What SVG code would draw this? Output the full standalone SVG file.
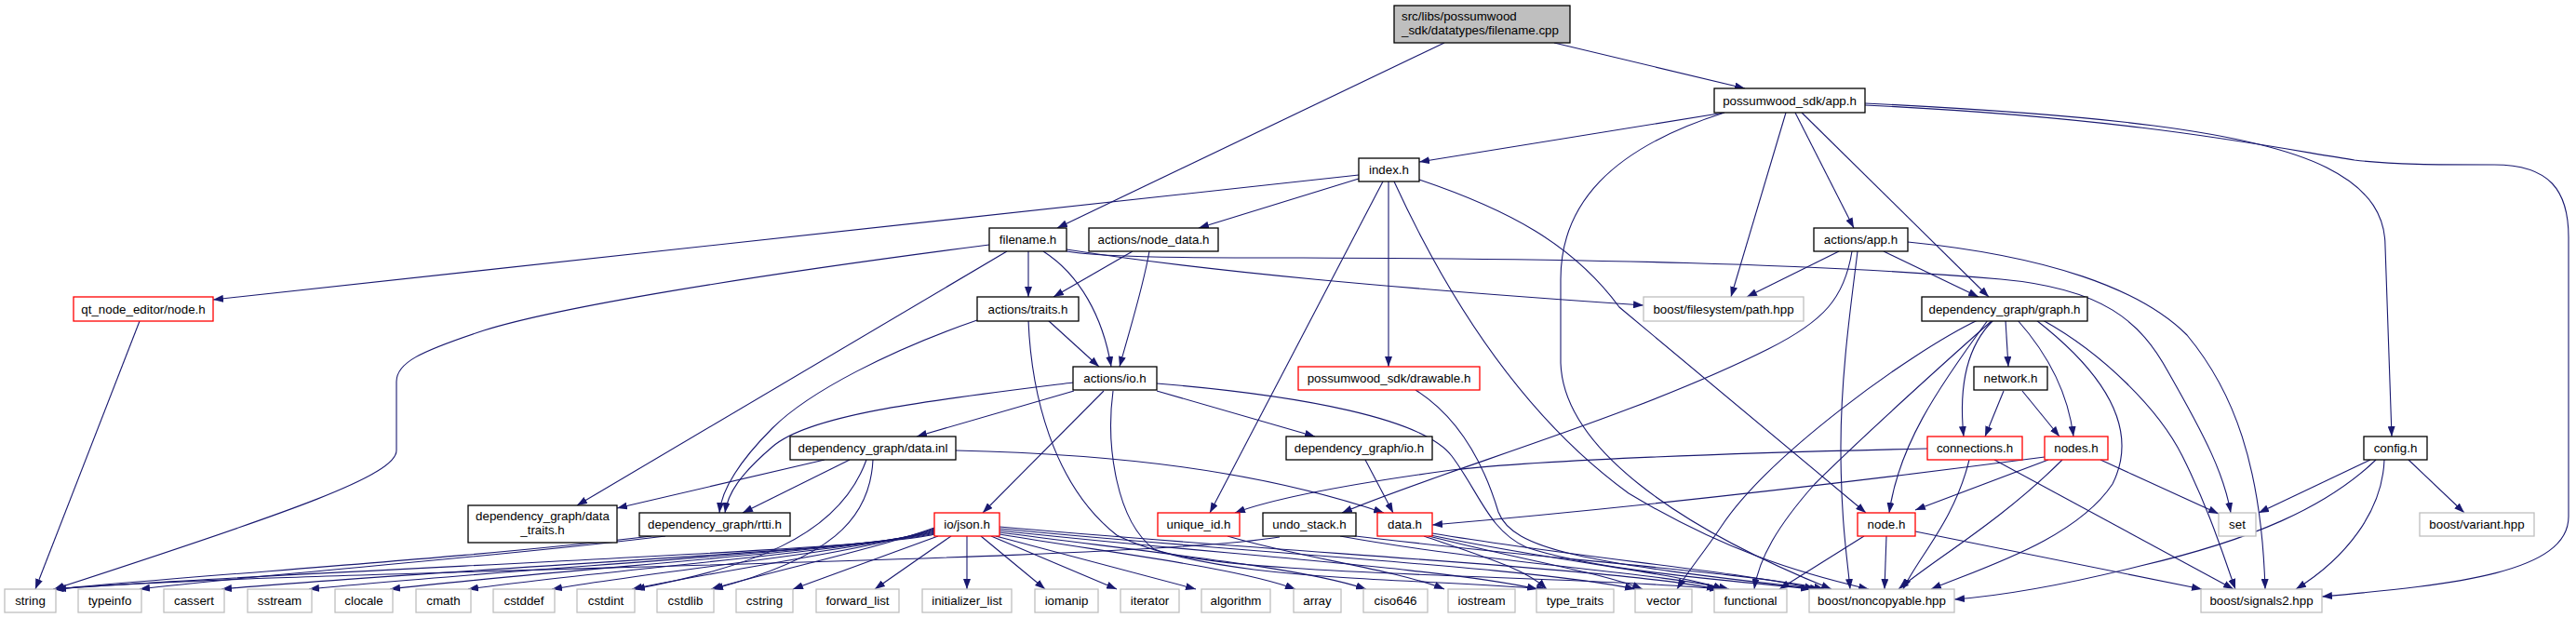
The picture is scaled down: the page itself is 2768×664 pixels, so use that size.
<svg xmlns="http://www.w3.org/2000/svg" width="2768" height="664" viewBox="0 0 2768 664">
<style>
.nd rect{fill:#fff;stroke:#000;stroke-width:1.3}
.rd rect{fill:#fff;stroke:#f00;stroke-width:1.3}
.gy rect{fill:#fff;stroke:#bfbfbf;stroke-width:1.3}
.top rect{fill:#bfbfbf;stroke:#000;stroke-width:1.3}
text{font-family:"Liberation Sans",Arial,Helvetica,sans-serif;font-size:13.33px;fill:#000;text-anchor:middle}
.top text{text-anchor:start}
#edges path{fill:none;stroke:#191970;stroke-width:1.1;marker-end:url(#arr)}
</style>
<defs>
<marker id="arr" viewBox="0 0 11 8" refX="11" refY="4" markerWidth="11" markerHeight="8" markerUnits="userSpaceOnUse" orient="auto"><path d="M0,0 L11,4 L0,8 z" fill="#191970"/></marker>
</defs>
<rect width="2768" height="664" fill="#fff"/>
<g id="edges">
<path d="M1552,46 L1136,245"/>
<path d="M1670,46 L1875,95"/>
<path d="M1853,121 L1525,174"/>
<path d="M1853,121 C1730,160 1677,220 1677,300 L1677,390 C1680,480 1800,565 1968,633"/>
<path d="M1919,121 L1860,319"/>
<path d="M1929,121 L1992,245"/>
<path d="M1936,121 L2137,319"/>
<path d="M2004,111 C2250,123 2420,140 2500,180 C2550,205 2563,235 2563,265 L2570,469"/>
<path d="M2004,113 C2300,127 2450,160 2530,172 C2570,177 2620,177 2680,177 C2740,177 2760,205 2760,255 L2760,555 C2760,615 2640,628 2495,641"/>
<path d="M1460,188 L229,322"/>
<path d="M1460,192 L1288,245"/>
<path d="M1486,195 L1300,551"/>
<path d="M1492,195 L1492,394"/>
<path d="M1525,193 C1620,225 1690,262 1740,330 L2005,551"/>
<path d="M1498,195 C1560,330 1640,450 1750,530 C1850,590 1930,615 2008,633"/>
<path d="M1063,263 C800,297 600,330 520,355 C450,378 426,390 426,410 L426,484 C426,510 320,548 58,633"/>
<path d="M1105,270 L1105,319"/>
<path d="M1121,270 C1160,295 1185,340 1194,394"/>
<path d="M1082,270 L620,543"/>
<path d="M1146,268 C1300,292 1500,310 1766,328"/>
<path d="M1146,270 C1180,276 1250,277 1400,277 C1700,278 1950,283 2150,300 C2260,310 2300,345 2330,400 C2370,470 2390,510 2397,551"/>
<path d="M1217,270 L1132,319"/>
<path d="M1235,270 C1228,310 1215,350 1203,394"/>
<path d="M1976,270 L1877,319"/>
<path d="M2024,270 L2126,319"/>
<path d="M2050,260 C2200,275 2300,310 2350,360 C2400,420 2430,500 2434,633"/>
<path d="M1990,270 C1982,320 1960,345 1900,375 C1750,450 1550,505 1442,551"/>
<path d="M1996,270 C1990,320 1978,400 1978,480 C1978,560 1985,600 1988,633"/>
<path d="M150,345 L38,633"/>
<path d="M1126,344 L1181,394"/>
<path d="M1050,344 C960,375 870,420 830,460 C790,500 775,530 773,551"/>
<path d="M1105,344 C1108,420 1130,520 1200,575 C1300,625 1500,620 1662,633"/>
<path d="M2155,344 L2158,394"/>
<path d="M2142,344 C2115,370 2104,410 2110,469"/>
<path d="M2168,344 C2200,380 2222,420 2228,469"/>
<path d="M2136,344 C2080,420 2040,480 2030,551"/>
<path d="M2188,344 C2260,400 2300,460 2270,520 C2230,580 2130,610 2075,633"/>
<path d="M2195,344 C2260,380 2320,440 2345,490 C2375,550 2390,600 2402,633"/>
<path d="M2125,344 C2050,380 1900,490 1850,565 C1830,595 1815,612 1802,633"/>
<path d="M2141,344 C2100,380 2000,470 1950,520 C1910,565 1890,600 1885,633"/>
<path d="M1154,420 L985,469"/>
<path d="M1153,411 C1000,430 870,445 830,480 C795,510 782,530 779,551"/>
<path d="M1186,420 L1056,551"/>
<path d="M1243,420 L1413,469"/>
<path d="M1243,412 C1400,425 1530,450 1560,490 C1590,530 1600,570 1640,588 C1720,615 1880,625 1946,633"/>
<path d="M1196,420 C1188,480 1200,560 1240,590 C1320,620 1700,618 1848,633"/>
<path d="M2153,420 L2133,469"/>
<path d="M2173,420 L2213,469"/>
<path d="M1521,419 C1570,450 1595,500 1610,550 C1625,590 1700,605 1956,633"/>
<path d="M886,494 L663,546"/>
<path d="M913,494 L798,551"/>
<path d="M1027,484 C1200,488 1350,505 1487,551"/>
<path d="M931,494 C900,580 800,610 682,633"/>
<path d="M938,494 C935,560 890,600 766,633"/>
<path d="M1467,494 L1497,551"/>
<path d="M2071,482 C1850,487 1650,495 1560,505 C1450,520 1370,535 1327,551"/>
<path d="M2116,494 C2100,560 2060,600 2045,633"/>
<path d="M2143,494 L2400,633"/>
<path d="M2197,491 C1900,530 1700,550 1539,564"/>
<path d="M2201,494 L2058,548"/>
<path d="M2216,494 C2150,560 2080,600 2040,633"/>
<path d="M2257,494 L2384,552"/>
<path d="M2547,494 L2427,551"/>
<path d="M2588,494 L2648,551"/>
<path d="M2553,494 C2500,545 2420,580 2300,608 C2220,628 2150,640 2100,644"/>
<path d="M2562,494 C2560,550 2520,600 2467,633"/>
<path d="M700,576 C500,600 250,615 58,633"/>
<path d="M715,576 C520,600 300,615 150,633"/>
<path d="M1319,576 C1400,600 1500,612 1552,633"/>
<path d="M1375,577 C1200,605 300,612 60,633"/>
<path d="M1440,576 C1600,605 1780,615 1858,633"/>
<path d="M1440,574 C1650,600 1880,615 1960,633"/>
<path d="M1530,576 C1600,600 1640,612 1662,633"/>
<path d="M1535,576 C1650,605 1720,615 1765,633"/>
<path d="M1537,575 C1680,605 1800,615 1852,633"/>
<path d="M1539,573 C1700,600 1880,615 1950,633"/>
<path d="M2003,576 L1912,633"/>
<path d="M2027,576 L2025,633"/>
<path d="M2058,571 L2366,633"/>
<path d="M1004,574 C940,592 341,612 57,633"/>
<path d="M1004,573 C940,591 468,612 238,633"/>
<path d="M1004,572 C940,590 534,612 332,633"/>
<path d="M1004,571 C940,590 594,612 419,633"/>
<path d="M1004,570 C940,590 653,612 503,633"/>
<path d="M1004,569 C940,590 716,612 593,633"/>
<path d="M1004,568 C940,590 776,612 679,633"/>
<path d="M1004,567 C940,590 836,612 764,633"/>
<path d="M1008,576 L852,633"/>
<path d="M1022,576 L940,633"/>
<path d="M1039,576 L1039,633"/>
<path d="M1054,576 L1123,633"/>
<path d="M1065,576 L1200,633"/>
<path d="M1070,576 L1285,633"/>
<path d="M1074,574 C1200,595 1330,610 1392,633"/>
<path d="M1074,572 C1250,595 1400,610 1468,633"/>
<path d="M1074,570 C1300,595 1550,610 1652,633"/>
<path d="M1074,568 C1350,595 1650,610 1757,633"/>
<path d="M1074,566 C1400,595 1750,612 1845,633"/>
</g>
<g id="n_cpp" class="top"><rect x="1498" y="6" width="189" height="40"/><text x="1506" y="21.5">src/libs/possumwood</text><text x="1506" y="36.5">_sdk/datatypes/filename.cpp</text></g>
<g id="n_app" class="nd"><rect x="1842" y="95" width="162" height="26"/><text x="1923" y="112.5">possumwood_sdk/app.h</text></g>
<g id="n_index" class="nd"><rect x="1460" y="170" width="65" height="25"/><text x="1492.5" y="187">index.h</text></g>
<g id="n_filename_h" class="nd"><rect x="1063" y="245" width="83" height="25"/><text x="1104.5" y="262">filename.h</text></g>
<g id="n_node_data" class="nd"><rect x="1170" y="245" width="139" height="25"/><text x="1239.5" y="262">actions/node_data.h</text></g>
<g id="n_actions_app" class="nd"><rect x="1949" y="245" width="101" height="25"/><text x="1999.5" y="262">actions/app.h</text></g>
<g id="n_qt_node" class="rd"><rect x="79" y="319" width="150" height="26"/><text x="154" y="336.5">qt_node_editor/node.h</text></g>
<g id="n_traits" class="nd"><rect x="1050" y="319" width="109" height="26"/><text x="1104.5" y="336.5">actions/traits.h</text></g>
<g id="n_path" class="gy"><rect x="1766" y="319" width="172" height="26"/><text x="1852" y="336.5">boost/filesystem/path.hpp</text></g>
<g id="n_graph" class="nd"><rect x="2065" y="319" width="178" height="26"/><text x="2154" y="336.5">dependency_graph/graph.h</text></g>
<g id="n_io" class="nd"><rect x="1153" y="394" width="90" height="25"/><text x="1198" y="411">actions/io.h</text></g>
<g id="n_drawable" class="rd"><rect x="1395" y="394" width="195" height="25"/><text x="1492.5" y="411">possumwood_sdk/drawable.h</text></g>
<g id="n_network" class="nd"><rect x="2121" y="394" width="79" height="25"/><text x="2160.5" y="411">network.h</text></g>
<g id="n_data_inl" class="nd"><rect x="849" y="469" width="178" height="25"/><text x="938" y="486">dependency_graph/data.inl</text></g>
<g id="n_dg_io" class="nd"><rect x="1382" y="469" width="157" height="25"/><text x="1460.5" y="486">dependency_graph/io.h</text></g>
<g id="n_connections" class="rd"><rect x="2071" y="469" width="102" height="25"/><text x="2122" y="486">connections.h</text></g>
<g id="n_nodes" class="rd"><rect x="2197" y="469" width="68" height="25"/><text x="2231" y="486">nodes.h</text></g>
<g id="n_config" class="nd"><rect x="2540" y="469" width="68" height="25"/><text x="2574" y="486">config.h</text></g>
<g id="n_data_traits" class="nd"><rect x="503" y="543" width="160" height="40"/><text x="583" y="559">dependency_graph/data</text><text x="583" y="574">_traits.h</text></g>
<g id="n_rtti" class="nd"><rect x="687" y="551" width="162" height="25"/><text x="768" y="568">dependency_graph/rtti.h</text></g>
<g id="n_json" class="rd"><rect x="1004" y="551" width="70" height="25"/><text x="1039" y="568">io/json.h</text></g>
<g id="n_unique_id" class="rd"><rect x="1244" y="551" width="88" height="25"/><text x="1288" y="568">unique_id.h</text></g>
<g id="n_undo_stack" class="nd"><rect x="1357" y="551" width="100" height="25"/><text x="1407" y="568">undo_stack.h</text></g>
<g id="n_data_h" class="rd"><rect x="1480" y="551" width="59" height="25"/><text x="1509.5" y="568">data.h</text></g>
<g id="n_node_h" class="rd"><rect x="1996" y="551" width="62" height="25"/><text x="2027" y="568">node.h</text></g>
<g id="n_set" class="gy"><rect x="2384" y="551" width="40" height="25"/><text x="2404" y="568">set</text></g>
<g id="n_variant" class="gy"><rect x="2600" y="551" width="123" height="25"/><text x="2661.5" y="568">boost/variant.hpp</text></g>
<g id="n_string" class="gy"><rect x="5" y="633" width="55" height="25"/><text x="32.5" y="650">string</text></g>
<g id="n_typeinfo" class="gy"><rect x="84" y="633" width="68" height="25"/><text x="118" y="650">typeinfo</text></g>
<g id="n_cassert" class="gy"><rect x="176" y="633" width="65" height="25"/><text x="208.5" y="650">cassert</text></g>
<g id="n_sstream" class="gy"><rect x="266" y="633" width="69" height="25"/><text x="300.5" y="650">sstream</text></g>
<g id="n_clocale" class="gy"><rect x="360" y="633" width="62" height="25"/><text x="391" y="650">clocale</text></g>
<g id="n_cmath" class="gy"><rect x="447" y="633" width="59" height="25"/><text x="476.5" y="650">cmath</text></g>
<g id="n_cstddef" class="gy"><rect x="530" y="633" width="66" height="25"/><text x="563" y="650">cstddef</text></g>
<g id="n_cstdint" class="gy"><rect x="620" y="633" width="62" height="25"/><text x="651" y="650">cstdint</text></g>
<g id="n_cstdlib" class="gy"><rect x="706" y="633" width="61" height="25"/><text x="736.5" y="650">cstdlib</text></g>
<g id="n_cstring" class="gy"><rect x="791" y="633" width="61" height="25"/><text x="821.5" y="650">cstring</text></g>
<g id="n_forward_list" class="gy"><rect x="877" y="633" width="89" height="25"/><text x="921.5" y="650">forward_list</text></g>
<g id="n_initializer_list" class="gy"><rect x="991" y="633" width="96" height="25"/><text x="1039" y="650">initializer_list</text></g>
<g id="n_iomanip" class="gy"><rect x="1112" y="633" width="68" height="25"/><text x="1146" y="650">iomanip</text></g>
<g id="n_iterator" class="gy"><rect x="1204" y="633" width="63" height="25"/><text x="1235.5" y="650">iterator</text></g>
<g id="n_algorithm" class="gy"><rect x="1291" y="633" width="74" height="25"/><text x="1328" y="650">algorithm</text></g>
<g id="n_array" class="gy"><rect x="1390" y="633" width="51" height="25"/><text x="1415.5" y="650">array</text></g>
<g id="n_ciso646" class="gy"><rect x="1465" y="633" width="69" height="25"/><text x="1499.5" y="650">ciso646</text></g>
<g id="n_iostream" class="gy"><rect x="1556" y="633" width="72" height="25"/><text x="1592" y="650">iostream</text></g>
<g id="n_type_traits" class="gy"><rect x="1651" y="633" width="83" height="25"/><text x="1692.5" y="650">type_traits</text></g>
<g id="n_vector" class="gy"><rect x="1757" y="633" width="61" height="25"/><text x="1787.5" y="650">vector</text></g>
<g id="n_functional" class="gy"><rect x="1842" y="633" width="78" height="25"/><text x="1881" y="650">functional</text></g>
<g id="n_noncopyable" class="gy"><rect x="1944" y="633" width="156" height="25"/><text x="2022" y="650">boost/noncopyable.hpp</text></g>
<g id="n_signals2" class="gy"><rect x="2365" y="633" width="130" height="25"/><text x="2430" y="650">boost/signals2.hpp</text></g>
</svg>
